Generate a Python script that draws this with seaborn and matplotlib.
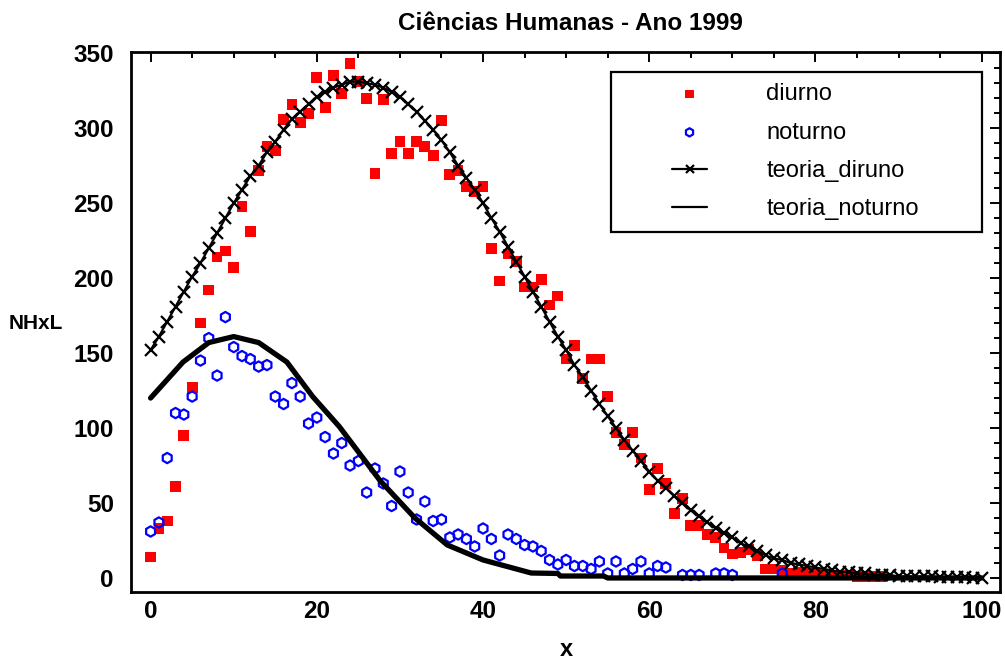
import numpy as np
import pandas as pd
import matplotlib
matplotlib.use("Agg")
import matplotlib.pyplot as plt
import seaborn as sns
from matplotlib.patches import Rectangle
from matplotlib.ticker import MultipleLocator

# ---------------- data ----------------
diurno_x = list(range(0, 89))
diurno_y = [14, 33, 38, 61, 95, 127, 170, 192, 214, 218,
            207, 248, 231, 272, 288, 285, 306, 316, 304, 310,
            334, 314, 335, 323, 343, 331, 320, 270, 319, 283,
            291, 283, 291, 288, 282, 305, 269, 272, 261, 258,
            261, 220, 198, 216, 211, 194, 194, 199, 182, 188,
            146, 155, 133, 146, 146, 121, 97, 89, 97, 80,
            59, 73, 63, 43, 53, 35, 35, 29, 27, 20,
            16, 17, 19, 15, 6, 6, 5, 3, 4, 3,
            3, 2, 2, 2, 2, 1, 1, 1, 1]

noturno_x = list(range(0, 63)) + [64, 65, 66, 68, 69, 70, 76]
noturno_y = [31, 37, 80, 110, 109, 121, 145, 160, 135, 174,
             154, 148, 146, 141, 142, 121, 116, 130, 121, 103,
             107, 94, 83, 90, 75, 78, 57, 73, 63, 48,
             71, 57, 39, 51, 38, 39, 27, 29, 26, 21,
             33, 26, 15, 29, 26, 22, 21, 18, 12, 9,
             12, 8, 8, 6, 11, 3, 11, 3, 6, 11,
             3, 8, 7, 2, 2, 2, 3, 3, 2, 3]

teoria_diurno_x = list(range(0, 101))
teoria_diurno_y = [152, 161, 171, 181, 191, 201, 210, 220, 230, 240,
                   250, 259, 268, 275, 284, 291, 299, 306, 311, 316,
                   321, 324, 327, 329, 331, 331, 330, 329, 327, 324,
                   321, 316, 311, 305, 299, 292, 284, 275, 267, 259,
                   250, 240, 231, 221, 211, 201, 191, 181, 171, 161,
                   152, 142, 134, 125, 116, 108, 100, 92, 85, 78,
                   71, 65, 60, 55, 50, 45, 41, 37, 33, 30,
                   27, 23, 21, 18, 15, 13, 12, 10, 9, 8,
                   7, 6, 5, 4, 4, 3, 3, 2, 2, 2,
                   1, 1, 1, 1, 1, 0.5, 0.5, 0.5, 0.4, 0.3, 0.3]

teoria_noturno_x = [0, 3.9, 7, 10, 13, 16.4, 19.5, 22.7, 27.6, 31.8, 35.7,
                    40, 45.8, 49, 49.3, 54.5, 55, 100]
teoria_noturno_y = [120, 144, 157, 161, 157, 144, 121, 101, 65, 40, 22,
                    12, 3.3, 3, 1.3, 1.3, 0, 0]

labels = ["diurno", "noturno", "teoria_diruno", "teoria_noturno"]
title = "Ciências Humanas - Ano 1999"
xlabel = "x"
ylabel = "NHxL"

# ---------------- style ----------------
sns.set_style("white")
plt.rcParams['font.family'] = ['Liberation Sans', 'DejaVu Sans']
plt.rcParams['font.weight'] = 'bold'
for k in ("text.color", "axes.labelcolor", "xtick.color", "ytick.color",
          "axes.edgecolor"):
    plt.rcParams[k] = "black"

fig = plt.figure(figsize=(10.05, 6.63), dpi=100)
ax = fig.add_axes([0.130, 0.107, 0.865, 0.815])

df_d = pd.DataFrame({"x": diurno_x, "y": diurno_y})
df_n = pd.DataFrame({"x": noturno_x, "y": noturno_y})
df_td = pd.DataFrame({"x": teoria_diurno_x, "y": teoria_diurno_y})
df_tn = pd.DataFrame({"x": teoria_noturno_x, "y": teoria_noturno_y})

sns.scatterplot(data=df_d, x="x", y="y", marker="s", s=60, color="#FF0000",
                edgecolor="none", linewidth=0, label=labels[0], ax=ax, zorder=2)
sns.scatterplot(data=df_n, x="x", y="y", marker="h", s=55, facecolors="none",
                edgecolor="#0000FF", linewidth=1.6, label=labels[1], ax=ax, zorder=3)
sns.lineplot(data=df_td, x="x", y="y", color="black", lw=1.6, marker="x",
             markersize=8, markeredgewidth=1.6, markeredgecolor="black",
             label=labels[2], ax=ax, zorder=4)
sns.lineplot(data=df_tn, x="x", y="y", color="black", lw=3.8,
             label=labels[3], ax=ax, zorder=5)

ax.set_xlim(-2.4, 102.2)
ax.set_ylim(-9.4, 351)
ax.xaxis.set_major_locator(MultipleLocator(20))
ax.xaxis.set_minor_locator(MultipleLocator(5))
ax.yaxis.set_major_locator(MultipleLocator(50))
ax.yaxis.set_minor_locator(MultipleLocator(10))
ax.tick_params(which="both", direction="in", top=True, right=True,
               width=1.4, color="black", labelcolor="black")
ax.tick_params(which="major", length=7)
ax.tick_params(which="minor", length=4)
ax.tick_params(axis="x", which="major", labelsize=17.5, pad=6)
ax.tick_params(axis="y", which="major", labelsize=17.5, pad=12)
for lab in ax.get_xticklabels() + ax.get_yticklabels():
    lab.set_fontweight("bold")
for sp in ax.spines.values():
    sp.set_visible(True)
    sp.set_color("black")
    sp.set_linewidth(2)
ax.set_xlabel("")
ax.set_ylabel("")

fig.text(0.5677, 1 - 24 / 663, title, ha="center", va="center",
         fontsize=17.5, fontweight="bold", color="black",
         family=["Liberation Sans Narrow", "Liberation Sans", "DejaVu Sans"])
fig.text(566 / 1005, 1 - 650 / 663, xlabel, ha="center", va="center",
         fontsize=17, fontweight="bold", color="black")
fig.text(36 / 1005, 1 - 323 / 663, ylabel, ha="center", va="center",
         fontsize=15, fontweight="bold", color="black")

handles, labs = ax.get_legend_handles_labels()
leg = ax.legend(handles, labs, loc="upper left", bbox_to_anchor=(0.6225, 0.9416),
                frameon=False, borderpad=0, borderaxespad=0, handlelength=1.5,
                handletextpad=2.5, labelspacing=0.69, markerscale=0.8,
                prop={"size": 17, "weight": "normal"})
for t in leg.get_texts():
    t.set_color("black")
for ln in leg.get_lines():
    ln.set_linewidth(1.6)
ax.add_patch(Rectangle((0.553, 0.667), 0.426, 0.296, transform=ax.transAxes,
                       fill=False, edgecolor="black", lw=1.6, zorder=10))

fig.savefig("out.png", dpi=100)
